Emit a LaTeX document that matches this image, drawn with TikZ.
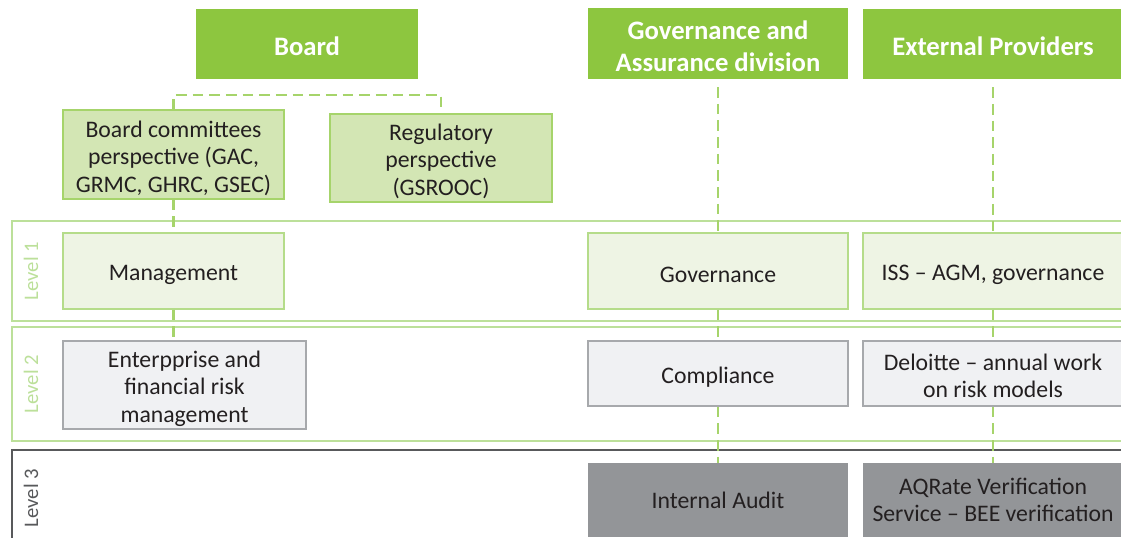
\documentclass[tikz,border=0pt]{standalone}
\usepackage{fontspec}
\setmainfont{Carlito}
\definecolor{hgreen}{HTML}{8DC63F}
\definecolor{dgreen}{HTML}{A6D46B}
\definecolor{cfill}{HTML}{D3E6B4}
\definecolor{lfill}{HTML}{EEF4E4}
\definecolor{lborder}{HTML}{B5DC8A}
\definecolor{bandc}{HTML}{BCE09A}
\definecolor{gfill}{HTML}{F0F1F3}
\definecolor{gborder}{HTML}{A7A9AC}
\definecolor{dfill}{HTML}{939598}
\definecolor{txt}{HTML}{231F20}
\definecolor{lvthree}{HTML}{58595B}
\newcommand\firstup[1]{\rule{0pt}{#1}}
\tikzset{
  head/.style={fill=hgreen, draw=none, text=white, font=\fontsize{20}{24}\selectfont\bfseries, align=center, inner sep=0pt},
  bodytext/.style={text=txt, font=\fontsize{17.8}{20.5}\selectfont, align=center, inner sep=0pt},
  combox/.style={bodytext, fill=cfill, draw=dgreen, line width=1.2pt},
  lonebox/.style={bodytext, fill=lfill, draw=lborder, line width=1.2pt},
  ltwobox/.style={bodytext, fill=gfill, draw=gborder, line width=1.2pt},
  lthreebox/.style={bodytext, fill=dfill, draw=none},
  conn/.style={draw=dgreen, line width=2.2pt, dash pattern=on 8pt off 4.5pt},
  band/.style={draw=bandc, line width=1.1pt},
  lvl/.style={rotate=90, font=\fontsize{15.5}{18}\selectfont, inner sep=0pt},
}
\begin{document}
\begin{tikzpicture}[x=0.75pt,y=-0.75pt]
\useasboundingbox (0,0) rectangle (1121,537);
\clip (0,0) rectangle (1121,537);
\fill[white] (0,0) rectangle (1121,537);
% level bands
\draw[band] (12,221) rectangle (1140,321);
\draw[band] (12,327) rectangle (1140,441);
\draw[draw=lvthree, line width=1.1pt] (12,450) rectangle (1140,600);
\node[lvl, text=bandc] (lv1) at (31,271) {Level 1};
\node[lvl, text=bandc] (lv2) at (31,384) {Level 2};
\node[lvl, text=lvthree] (lv3) at (31,498) {Level 3};
% headings
\node[head, minimum width=166.5pt, minimum height=52.5pt] (board) at (307,44) {\firstup{18pt}Board};
\node[head, minimum width=195pt, minimum height=53pt] (gov) at (718,43.5) {\firstup{18pt}Governance and\\Assurance division};
\node[head, minimum width=195pt, minimum height=52.5pt] (ext) at (993,44) {\firstup{18pt}External Providers};
% committees
\node[combox, minimum width=165.75pt, minimum height=66.75pt] (comm) at (173.5,154.5) {\firstup{18pt}Board committees\\perspective (GAC,\\GRMC, GHRC, GSEC)};
\node[combox, minimum width=166.5pt, minimum height=66pt] (reg) at (441,158) {\firstup{17pt}Regulatory\\perspective\\(GSROOC)};
\coordinate (brk) at (300,95);
% level 1
\node[lonebox, minimum width=165.75pt, minimum height=57pt] (mgmt) at (173.5,271) {\firstup{17.5pt}Management};
\node[lonebox, minimum width=195pt, minimum height=57pt] (govn) at (718,271) {\firstup{17.5pt}Governance};
\node[lonebox, minimum width=195pt, minimum height=57pt] (iss) at (993,271) {\firstup{17.5pt}ISS -- AGM, governance};
% level 2
\node[ltwobox, minimum width=182.25pt, minimum height=66pt] (erm) at (184.5,385) {\firstup{18pt}Enterpprise and\\financial risk\\management};
\node[ltwobox, minimum width=195pt, minimum height=48.75pt] (comp) at (718,373.5) {\firstup{17.5pt}Compliance};
\node[ltwobox, minimum width=195pt, minimum height=48.75pt] (del) at (993,373.5) {\firstup{16pt}Deloitte -- annual work\\on risk models};
% level 3
\node[lthreebox, minimum width=195pt, minimum height=55.5pt] (ia) at (718,500) {Internal Audit};
\node[lthreebox, minimum width=195pt, minimum height=55.5pt] (aq) at (993,500) {AQRate Verification\\Service -- BEE verification};
% connectors
\draw[conn] (comm.north) -- (comm.north |- brk) -- (reg.north |- brk) -- (reg.north);
\draw[conn] (comm.south) -- (mgmt.north);
\draw[conn] (mgmt.south) -- (mgmt.south |- erm.north);
\draw[conn] ([yshift=-6pt]gov.south) -- (govn.north);
\draw[conn] (govn.south) -- (comp.north);
\draw[conn] (comp.south) -- (ia.north);
\draw[conn] ([yshift=-6pt]ext.south) -- (iss.north);
\draw[conn] (iss.south) -- (del.north);
\draw[conn] (del.south) -- (aq.north);
\end{tikzpicture}
\end{document}
